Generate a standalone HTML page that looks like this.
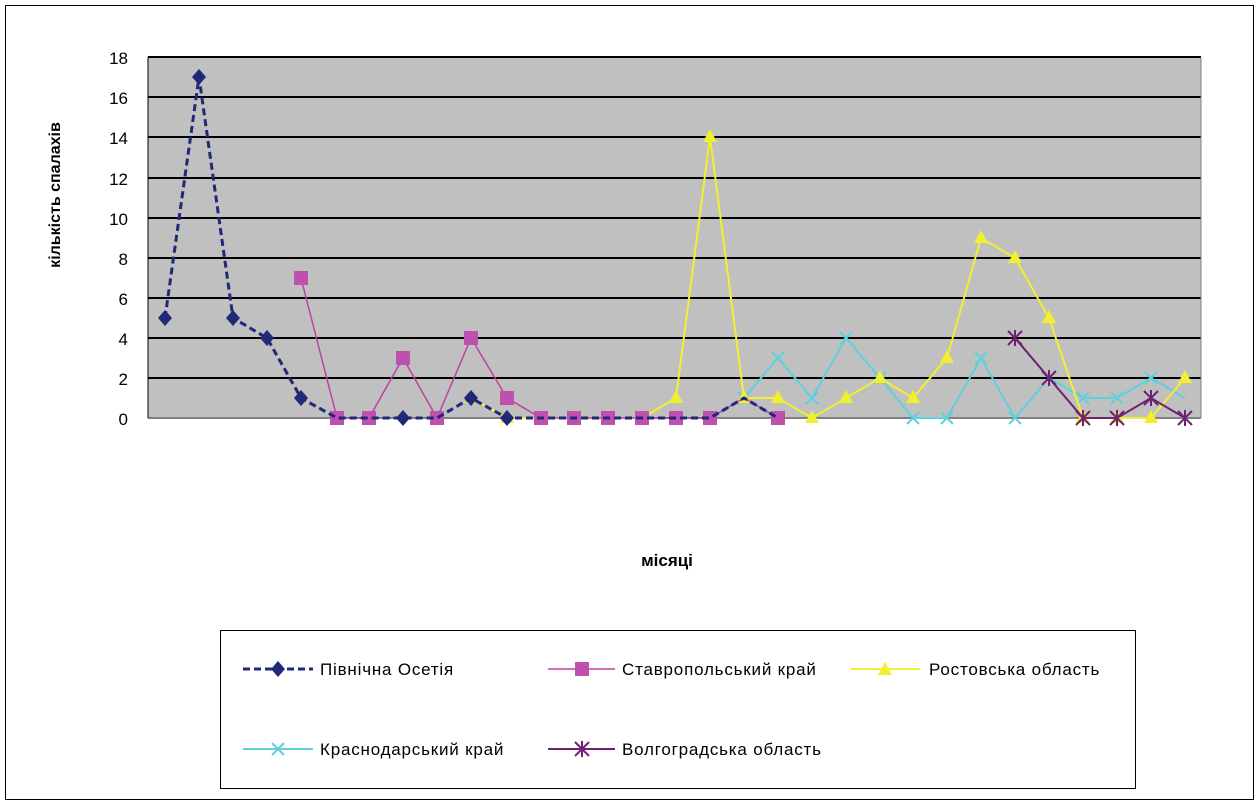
<!DOCTYPE html>
<html><head><meta charset="utf-8"><style>body{margin:0;background:#fff}svg{display:block}text{font-family:"Liberation Sans",sans-serif}</style></head><body>
<svg width="1260" height="808" xmlns="http://www.w3.org/2000/svg">
<defs><path id="t" d="M0,-8L7,5L-7,5Z"/><path id="d" d="M0,-8L7,0L0,8L-7,0Z"/></defs>
<rect x="5.5" y="5.5" width="1248" height="794" fill="#fff" stroke="#000"/>
<rect x="148" y="57" width="1053" height="361" fill="#c0c0c0"/>
<g stroke="#000" stroke-width="2">
<line x1="148" y1="57" x2="1201" y2="57"/><line x1="148" y1="97" x2="1201" y2="97"/><line x1="148" y1="137" x2="1201" y2="137"/><line x1="148" y1="178" x2="1201" y2="178"/><line x1="148" y1="218" x2="1201" y2="218"/><line x1="148" y1="258" x2="1201" y2="258"/><line x1="148" y1="298" x2="1201" y2="298"/><line x1="148" y1="338" x2="1201" y2="338"/><line x1="148" y1="378" x2="1201" y2="378"/>
</g>
<line x1="148" y1="418" x2="1201" y2="418" stroke="#808080" stroke-width="2"/>
<line x1="1201" y1="57" x2="1201" y2="418" stroke="#808080"/>
<line x1="148" y1="57" x2="148" y2="418" stroke="#000"/>
<g font-size="17" text-anchor="end">
<text x="128" y="64">18</text><text x="128" y="104">16</text><text x="128" y="144">14</text><text x="128" y="185">12</text><text x="128" y="225">10</text><text x="128" y="265">8</text><text x="128" y="305">6</text><text x="128" y="345">4</text><text x="128" y="385">2</text><text x="128" y="425">0</text>
</g>
<text transform="translate(60,195) rotate(-90)" font-size="16" font-weight="bold" text-anchor="middle">кількість спалахів</text>
<text x="667" y="566" font-size="17" font-weight="bold" text-anchor="middle">місяці</text>
<polyline fill="none" stroke="#5fd0dc" stroke-width="2" points="744,398 778,358 812,398 846,338 880,378 913,418 947,418 981,358 1015,418 1049,378 1083,398 1117,398 1151,378 1185,398"/>
<g stroke="#5fd0dc" stroke-width="2"><path d="M738,392l12,12M750,392l-12,12M772,352l12,12M784,352l-12,12M806,392l12,12M818,392l-12,12M840,332l12,12M852,332l-12,12M874,372l12,12M886,372l-12,12M907,412l12,12M919,412l-12,12M941,412l12,12M953,412l-12,12M975,352l12,12M987,352l-12,12M1009,412l12,12M1021,412l-12,12M1043,372l12,12M1055,372l-12,12M1077,392l12,12M1089,392l-12,12M1111,392l12,12M1123,392l-12,12M1145,372l12,12M1157,372l-12,12"/></g>
<polyline fill="none" stroke="#f0f030" stroke-width="2" points="471,398 507,418 541,418 574,418 608,418 642,418 676,398 710,137 744,398 778,398 812,418 846,398 880,378 913,398 947,358 981,238 1015,258 1049,318 1083,418 1117,418 1151,418 1185,378"/>
<g fill="#f0f030">
<use href="#t" x="471" y="398"/><use href="#t" x="507" y="418"/><use href="#t" x="541" y="418"/><use href="#t" x="574" y="418"/><use href="#t" x="608" y="418"/><use href="#t" x="642" y="418"/><use href="#t" x="676" y="398"/><use href="#t" x="710" y="137"/><use href="#t" x="744" y="398"/><use href="#t" x="778" y="398"/><use href="#t" x="812" y="418"/><use href="#t" x="846" y="398"/><use href="#t" x="880" y="378"/><use href="#t" x="913" y="398"/><use href="#t" x="947" y="358"/><use href="#t" x="981" y="238"/><use href="#t" x="1015" y="258"/><use href="#t" x="1049" y="318"/><use href="#t" x="1083" y="418"/><use href="#t" x="1117" y="418"/><use href="#t" x="1151" y="418"/><use href="#t" x="1185" y="378"/></g>
<polyline fill="none" stroke="#c040a0" stroke-width="1.5" points="301,278 337,418 369,418 403,358 437,418 471,338 507,398 541,418 574,418 608,418 642,418 676,418 710,418 744,398 778,418"/>
<g fill="#c050b0"><rect x="294" y="271" width="14" height="14"/><rect x="330" y="411" width="14" height="14"/><rect x="362" y="411" width="14" height="14"/><rect x="396" y="351" width="14" height="14"/><rect x="430" y="411" width="14" height="14"/><rect x="464" y="331" width="14" height="14"/><rect x="500" y="391" width="14" height="14"/><rect x="534" y="411" width="14" height="14"/><rect x="567" y="411" width="14" height="14"/><rect x="601" y="411" width="14" height="14"/><rect x="635" y="411" width="14" height="14"/><rect x="669" y="411" width="14" height="14"/><rect x="703" y="411" width="14" height="14"/><rect x="771" y="411" width="14" height="14"/></g>
<polyline fill="none" stroke="#202878" stroke-width="3" stroke-dasharray="7,4" points="165,318 199,77 233,318 267,338 301,398 337,418 369,418 403,418 437,418 471,398 507,418 541,418 574,418 608,418 642,418 676,418 710,418 744,398 778,418"/>
<g fill="#202878">
<use href="#d" x="165" y="318"/><use href="#d" x="199" y="77"/><use href="#d" x="233" y="318"/><use href="#d" x="267" y="338"/><use href="#d" x="301" y="398"/><use href="#d" x="403" y="418"/><use href="#d" x="471" y="398"/><use href="#d" x="507" y="418"/></g>
<polyline fill="none" stroke="#702070" stroke-width="2" points="1015,338 1049,378 1083,418 1117,418 1151,398 1185,418"/>
<g stroke="#702070" stroke-width="2"><path d="M1008,331l14,14M1022,331l-14,14M1015,330v16M1042,371l14,14M1056,371l-14,14M1049,370v16M1076,411l14,14M1090,411l-14,14M1083,410v16M1110,411l14,14M1124,411l-14,14M1117,410v16M1144,391l14,14M1158,391l-14,14M1151,390v16M1178,411l14,14M1192,411l-14,14M1185,410v16"/></g>
<rect x="220.5" y="630.5" width="915" height="158" fill="#fff" stroke="#000"/>
<g font-size="17" letter-spacing="0.8">
<line x1="243" y1="669" x2="313" y2="669" stroke="#202878" stroke-width="3" stroke-dasharray="7,4"/><use href="#d" x="278" y="669" fill="#202878"/><text x="320" y="675">Північна Осетія</text>
<line x1="548" y1="669" x2="615" y2="669" stroke="#c040a0" stroke-width="1.5"/><rect x="575" y="662" width="14" height="14" fill="#c050b0"/><text x="622" y="675">Ставропольський край</text>
<line x1="851" y1="669" x2="920" y2="669" stroke="#f0f030" stroke-width="2"/><use href="#t" x="885" y="670" fill="#f0f030"/><text x="929" y="675">Ростовська область</text>
<line x1="243" y1="749" x2="313" y2="749" stroke="#5fd0dc" stroke-width="2"/><path d="M272,743l12,12M284,743l-12,12" stroke="#5fd0dc" stroke-width="2"/><text x="320" y="755">Краснодарський край</text>
<line x1="548" y1="749" x2="615" y2="749" stroke="#702070" stroke-width="2"/><path d="M575,742l14,14M589,742l-14,14M582,741v16" stroke="#702070" stroke-width="2"/><text x="622" y="755">Волгоградська область</text>
</g>
</svg>
</body></html>
